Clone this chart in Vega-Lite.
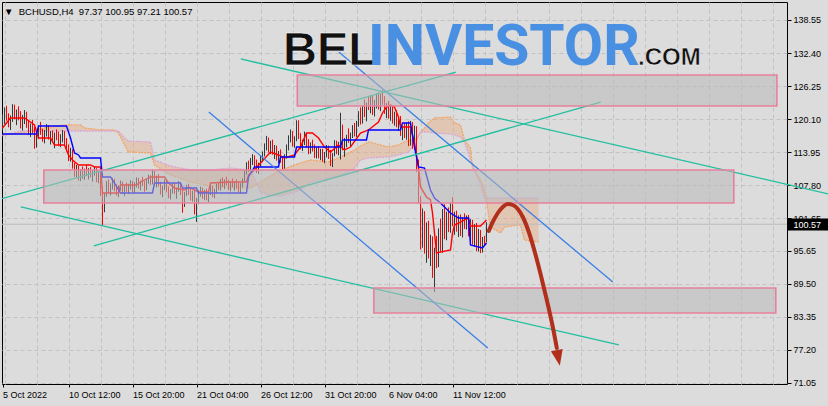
{
"$schema":"https://vega.github.io/schema/vega-lite/v6.json",
"width":785,"height":382,
"autosize":{"type":"none"},
"padding":{"left":2,"top":2,"right":41,"bottom":22},
"background":"#dcdcdc",
"config":{"view":{"stroke":"#000000","strokeWidth":1},"font":"Liberation Sans","axis":{"labelFont":"Liberation Sans","labelFontSize":9,"labelColor":"#000000","tickColor":"#000000","domain":false,"title":null,"gridColor":"#c2c2c2","gridDash":[4,3],"gridWidth":1}},
"title":{"text":"\u25bc\u00a0\u00a0BCHUSD,H4\u00a0\u00a097.37 100.95 97.21 100.57","anchor":"start","frame":"group","orient":"top","offset":0,"dx":2,"dy":14,"font":"Liberation Sans","fontSize":9.5,"fontWeight":"normal","color":"#000000"},
"datasets":{
"bars":[
{"i":0,"o":119.5,"h":121,"l":118,"c":120.2},{"i":1,"o":120.2,"h":122.3,"l":119.2,"c":121.5},{"i":2,"o":121.5,"h":122.6,"l":119.8,"c":120.3},{"i":3,"o":120.3,"h":121.2,"l":118.6,"c":119.2},{"i":4,"o":119.2,"h":120.8,"l":118.1,"c":120.4},{"i":5,"o":120.4,"h":122.9,"l":119.6,"c":122},{"i":6,"o":122,"h":122.8,"l":120.1,"c":120.6},{"i":7,"o":120.6,"h":121.9,"l":119,"c":121.3},{"i":8,"o":121.3,"h":122.5,"l":119.9,"c":120},{"i":9,"o":120,"h":121.6,"l":118.4,"c":119.1},
{"i":10,"o":119.1,"h":120.9,"l":118,"c":120.3},{"i":11,"o":120.3,"h":121.8,"l":119.2,"c":121},{"i":12,"o":121,"h":121.5,"l":118.5,"c":118.9},{"i":13,"o":118.9,"h":119.8,"l":117.2,"c":117.6},{"i":14,"o":117.6,"h":119.3,"l":116.8,"c":118.8},{"i":15,"o":118.8,"h":120,"l":117.5,"c":117.9},{"i":16,"o":117.9,"h":118.6,"l":114.6,"c":115.2},{"i":17,"o":115.2,"h":117.4,"l":114.8,"c":117},{"i":18,"o":117,"h":118.9,"l":116.4,"c":118.3},{"i":19,"o":118.3,"h":119.6,"l":117.2,"c":117.6},
{"i":20,"o":117.6,"h":118.3,"l":115.9,"c":116.4},{"i":21,"o":116.4,"h":118.1,"l":115.6,"c":117.6},{"i":22,"o":117.6,"h":119.2,"l":116.9,"c":118.6},{"i":23,"o":118.6,"h":119,"l":116.3,"c":116.8},{"i":24,"o":116.8,"h":117.9,"l":115.4,"c":117.2},{"i":25,"o":117.2,"h":118,"l":115.7,"c":116.1},{"i":26,"o":116.1,"h":117.6,"l":114.7,"c":117},{"i":27,"o":117,"h":118.2,"l":116.2,"c":116.6},{"i":28,"o":116.6,"h":117.8,"l":115.1,"c":115.6},{"i":29,"o":115.6,"h":117.3,"l":114.9,"c":116.9},
{"i":30,"o":116.9,"h":118.1,"l":115.8,"c":117.4},{"i":31,"o":117.4,"h":117.9,"l":115.2,"c":115.6},{"i":32,"o":115.6,"h":116.6,"l":114.1,"c":114.7},{"i":33,"o":114.7,"h":115.4,"l":112.3,"c":113},{"i":34,"o":113,"h":114.8,"l":112.2,"c":114.1},{"i":35,"o":114.1,"h":114.5,"l":110.9,"c":111.3},{"i":36,"o":111.3,"h":112,"l":109.4,"c":109.9},{"i":37,"o":109.9,"h":111.6,"l":109.2,"c":111.1},{"i":38,"o":111.1,"h":111.4,"l":108.7,"c":109.3},{"i":39,"o":109.3,"h":110.8,"l":108.6,"c":110.4},
{"i":40,"o":110.4,"h":111.3,"l":109,"c":109.6},{"i":41,"o":109.6,"h":110.9,"l":108.8,"c":110.5},{"i":42,"o":110.5,"h":111.6,"l":109.5,"c":110},{"i":43,"o":110,"h":111,"l":108.9,"c":110.7},{"i":44,"o":110.7,"h":111.2,"l":109.3,"c":109.5},{"i":45,"o":109.5,"h":110.6,"l":108.5,"c":110.1},{"i":46,"o":110.1,"h":111.4,"l":109.6,"c":110.9},{"i":47,"o":110.9,"h":111,"l":108.4,"c":108.9},{"i":48,"o":108.9,"h":110.4,"l":108.2,"c":109.9},{"i":49,"o":109.9,"h":110.5,"l":105.8,"c":106.5},
{"i":50,"o":107,"h":107.6,"l":100.4,"c":105.9},{"i":51,"o":105.9,"h":106.4,"l":102.8,"c":106.1},{"i":52,"o":106.1,"h":108.6,"l":105.7,"c":108.1},{"i":53,"o":108.1,"h":108.9,"l":106.4,"c":106.9},{"i":54,"o":106.9,"h":108.2,"l":105.9,"c":107.8},{"i":55,"o":107.8,"h":109.2,"l":107,"c":108.6},{"i":56,"o":108.6,"h":109,"l":106.7,"c":107.1},{"i":57,"o":107.1,"h":108,"l":105.9,"c":106.4},{"i":58,"o":106.4,"h":107.8,"l":105.6,"c":107.5},{"i":59,"o":107.5,"h":108.7,"l":106.8,"c":108.2},
{"i":60,"o":108.2,"h":108.5,"l":106.2,"c":106.6},{"i":61,"o":106.6,"h":107.9,"l":105.8,"c":107.4},{"i":62,"o":107.4,"h":108.3,"l":106.6,"c":106.9},{"i":63,"o":106.9,"h":108.1,"l":106.2,"c":107.8},{"i":64,"o":107.8,"h":108.8,"l":107,"c":108.3},{"i":65,"o":108.3,"h":108.6,"l":106.5,"c":106.8},{"i":66,"o":106.8,"h":108.4,"l":106.3,"c":108},{"i":67,"o":108,"h":109.3,"l":107.4,"c":108.9},{"i":68,"o":108.9,"h":109.2,"l":107.2,"c":107.6},{"i":69,"o":107.6,"h":108.7,"l":106.9,"c":108.3},
{"i":70,"o":108.3,"h":109.4,"l":107.7,"c":107.9},{"i":71,"o":107.9,"h":108.6,"l":106.6,"c":107.2},{"i":72,"o":107.2,"h":109,"l":106.9,"c":108.7},{"i":73,"o":108.7,"h":109.8,"l":108.1,"c":109.4},{"i":74,"o":109.4,"h":109.7,"l":107.9,"c":108.3},{"i":75,"o":108.3,"h":110.7,"l":108,"c":110.2},{"i":76,"o":110.2,"h":110.5,"l":107.8,"c":108.1},{"i":77,"o":108.1,"h":109.6,"l":107.4,"c":109.2},{"i":78,"o":109.2,"h":109.9,"l":107.6,"c":107.9},{"i":79,"o":107.9,"h":108.5,"l":106.1,"c":106.6},
{"i":80,"o":106.6,"h":107.7,"l":105.6,"c":107.3},{"i":81,"o":107.3,"h":108.9,"l":106.9,"c":108.4},{"i":82,"o":108.4,"h":108.8,"l":106.5,"c":106.9},{"i":83,"o":106.9,"h":107.6,"l":105.4,"c":105.9},{"i":84,"o":105.9,"h":107.1,"l":105.2,"c":106.8},{"i":85,"o":106.8,"h":108.2,"l":106.3,"c":107.9},{"i":86,"o":107.9,"h":108.3,"l":106.2,"c":106.5},{"i":87,"o":106.5,"h":107.4,"l":105.3,"c":107},{"i":88,"o":107,"h":108.6,"l":106.6,"c":108.1},{"i":89,"o":108.1,"h":108.4,"l":106,"c":106.4},
{"i":90,"o":106.4,"h":106.9,"l":102.7,"c":104.2},{"i":91,"o":104.2,"h":106.6,"l":103.8,"c":106.2},{"i":92,"o":106.2,"h":107.9,"l":105.8,"c":107.5},{"i":93,"o":107.5,"h":108.1,"l":106,"c":106.4},{"i":94,"o":106.4,"h":107.3,"l":105,"c":105.5},{"i":95,"o":105.5,"h":106.8,"l":104.8,"c":106.5},{"i":96,"o":106.5,"h":107,"l":102.4,"c":102.8},{"i":97,"o":102.8,"h":105.5,"l":101,"c":104.9},{"i":98,"o":104.9,"h":106.9,"l":104.3,"c":106.4},{"i":99,"o":106.4,"h":107.6,"l":105.7,"c":107.1},
{"i":100,"o":107.1,"h":107.4,"l":105.3,"c":105.8},{"i":101,"o":105.8,"h":107,"l":105.1,"c":106.6},{"i":102,"o":106.6,"h":107.2,"l":105,"c":105.4},{"i":103,"o":105.4,"h":106.9,"l":104.7,"c":106.5},{"i":104,"o":106.5,"h":107.9,"l":106,"c":107.4},{"i":105,"o":107.4,"h":107.7,"l":105.6,"c":105.9},{"i":106,"o":105.9,"h":107.2,"l":105.4,"c":106.9},{"i":107,"o":106.9,"h":108.1,"l":106.3,"c":107.7},{"i":108,"o":107.7,"h":108.4,"l":106.9,"c":107.2},{"i":109,"o":107.2,"h":109,"l":106.8,"c":108.6},
{"i":110,"o":108.6,"h":109.3,"l":107.5,"c":107.9},{"i":111,"o":107.9,"h":108.9,"l":107.1,"c":108.5},{"i":112,"o":108.5,"h":109.4,"l":107.8,"c":108.1},{"i":113,"o":108.1,"h":108.8,"l":106.9,"c":107.3},{"i":114,"o":107.3,"h":108.5,"l":106.7,"c":108.2},{"i":115,"o":108.2,"h":109.1,"l":107.4,"c":107.6},{"i":116,"o":107.6,"h":108.6,"l":106.8,"c":108.3},{"i":117,"o":108.3,"h":108.9,"l":107.2,"c":107.5},{"i":118,"o":107.5,"h":108.4,"l":106.5,"c":106.9},{"i":119,"o":106.9,"h":108.2,"l":106.3,"c":107.9},
{"i":120,"o":107.9,"h":109.1,"l":107.4,"c":108.8},{"i":121,"o":108.8,"h":110.6,"l":108.5,"c":110.2},{"i":122,"o":110.2,"h":112.1,"l":109.8,"c":111.6},{"i":123,"o":111.6,"h":112.4,"l":110.3,"c":110.8},{"i":124,"o":110.8,"h":112.9,"l":110.4,"c":112.5},{"i":125,"o":112.5,"h":113.6,"l":111.6,"c":113.1},{"i":126,"o":113.1,"h":113.4,"l":110.9,"c":111.5},{"i":127,"o":111.5,"h":112.6,"l":110.1,"c":110.6},{"i":128,"o":110.6,"h":112,"l":109.9,"c":111.7},{"i":129,"o":111.7,"h":113.4,"l":111.3,"c":112.9},
{"i":130,"o":112.9,"h":114.1,"l":112.1,"c":113.7},{"i":131,"o":113.7,"h":115.6,"l":113.2,"c":115.1},{"i":132,"o":115.1,"h":117,"l":114.3,"c":116.2},{"i":133,"o":116.2,"h":116.7,"l":113.9,"c":114.4},{"i":134,"o":114.4,"h":116.1,"l":113.6,"c":115.7},{"i":135,"o":115.7,"h":116.3,"l":113.5,"c":113.9},{"i":136,"o":113.9,"h":115.3,"l":112.7,"c":114.8},{"i":137,"o":114.8,"h":115.2,"l":112.4,"c":112.8},{"i":138,"o":112.8,"h":114.2,"l":111.9,"c":113.8},{"i":139,"o":113.8,"h":114.5,"l":112,"c":112.4},
{"i":140,"o":112.4,"h":113.2,"l":110.8,"c":111.2},{"i":141,"o":111.2,"h":113.6,"l":110.9,"c":113.1},{"i":142,"o":113.1,"h":115.4,"l":112.8,"c":114.9},{"i":143,"o":114.9,"h":117.1,"l":114.3,"c":116.6},{"i":144,"o":116.6,"h":118.2,"l":115.8,"c":117.6},{"i":145,"o":117.6,"h":117.9,"l":115,"c":115.4},{"i":146,"o":115.4,"h":116.9,"l":114.8,"c":116.5},{"i":147,"o":116.5,"h":119.9,"l":116,"c":118.9},{"i":148,"o":118.9,"h":119.9,"l":116.4,"c":116.9},{"i":149,"o":116.9,"h":117.5,"l":114.5,"c":114.9},
{"i":150,"o":114.9,"h":116.3,"l":114.2,"c":115.9},{"i":151,"o":115.9,"h":117.8,"l":115.3,"c":117.2},{"i":152,"o":117.2,"h":117.6,"l":114.8,"c":115.2},{"i":153,"o":115.2,"h":116.4,"l":113.6,"c":114},{"i":154,"o":114,"h":115.8,"l":113.7,"c":115.4},{"i":155,"o":115.4,"h":116.3,"l":114.1,"c":114.5},{"i":156,"o":114.5,"h":115.4,"l":112.9,"c":113.3},{"i":157,"o":113.3,"h":114.9,"l":112.8,"c":114.5},{"i":158,"o":114.5,"h":115.1,"l":112.8,"c":113.2},{"i":159,"o":113.2,"h":114.6,"l":112.5,"c":114.1},
{"i":160,"o":114.1,"h":114.6,"l":112.2,"c":112.6},{"i":161,"o":112.6,"h":114,"l":111.9,"c":113.6},{"i":162,"o":113.6,"h":115.3,"l":113,"c":114.8},{"i":163,"o":114.8,"h":115.2,"l":112.7,"c":113.1},{"i":164,"o":113.1,"h":114.4,"l":111.4,"c":111.9},{"i":165,"o":111.9,"h":113.8,"l":111.2,"c":113.5},{"i":166,"o":113.5,"h":116.2,"l":113.2,"c":115.8},{"i":167,"o":115.8,"h":116.1,"l":113.6,"c":114},{"i":168,"o":114,"h":115.9,"l":113.4,"c":114.2},{"i":169,"o":114.2,"h":121.3,"l":112.6,"c":118.6},
{"i":170,"o":118.6,"h":119.1,"l":114.3,"c":114.8},{"i":171,"o":114.8,"h":116.6,"l":113.1,"c":115.9},{"i":172,"o":115.9,"h":117.2,"l":114.9,"c":116.8},{"i":173,"o":116.8,"h":118.4,"l":115.7,"c":115.9},{"i":174,"o":115.9,"h":117.6,"l":115,"c":117.3},{"i":175,"o":117.3,"h":119,"l":116.6,"c":118.6},{"i":176,"o":118.6,"h":119.4,"l":116.9,"c":117.4},{"i":177,"o":117.4,"h":119.8,"l":116.8,"c":119.4},{"i":178,"o":119.4,"h":121.6,"l":118.7,"c":121},{"i":179,"o":121,"h":122.3,"l":119.1,"c":119.8},
{"i":180,"o":119.8,"h":122.7,"l":119.3,"c":122.1},{"i":181,"o":122.1,"h":123.8,"l":120.5,"c":121},{"i":182,"o":121,"h":123.2,"l":119.7,"c":122.9},{"i":183,"o":122.9,"h":124.4,"l":121.8,"c":122.3},{"i":184,"o":122.3,"h":124.6,"l":121.2,"c":123.9},{"i":185,"o":123.9,"h":124.5,"l":120.9,"c":121.4},{"i":186,"o":121.4,"h":123.7,"l":120.6,"c":123.2},{"i":187,"o":123.2,"h":124.9,"l":122.1,"c":124.3},{"i":188,"o":124.3,"h":125.1,"l":121.9,"c":122.4},{"i":189,"o":122.4,"h":124.8,"l":121.6,"c":124.5},
{"i":190,"o":124.5,"h":125.5,"l":122.8,"c":123.2},{"i":191,"o":123.2,"h":124.4,"l":121.1,"c":121.6},{"i":192,"o":121.6,"h":123.1,"l":120.3,"c":122.7},{"i":193,"o":122.7,"h":123.5,"l":120.2,"c":120.6},{"i":194,"o":120.6,"h":122.6,"l":119.8,"c":122.1},{"i":195,"o":122.1,"h":122.4,"l":119.3,"c":119.6},{"i":196,"o":119.6,"h":121.5,"l":118.9,"c":121.1},{"i":197,"o":121.1,"h":121.8,"l":118.6,"c":118.9},{"i":198,"o":118.9,"h":120.5,"l":117.9,"c":120.1},{"i":199,"o":120.1,"h":120.7,"l":117,"c":117.4},
{"i":200,"o":117.4,"h":118.9,"l":116.2,"c":118.5},{"i":201,"o":118.5,"h":119.4,"l":116.6,"c":117},{"i":202,"o":117,"h":119.5,"l":116.3,"c":119.1},{"i":203,"o":119.1,"h":119.7,"l":115.1,"c":115.6},{"i":204,"o":115.6,"h":119.8,"l":115.2,"c":119.2},{"i":205,"o":119.2,"h":119.6,"l":114.6,"c":115},{"i":206,"o":115,"h":118.9,"l":114.4,"c":118.3},{"i":207,"o":118.3,"h":118.8,"l":110.3,"c":111},{"i":208,"o":111,"h":112.6,"l":104.4,"c":105.1},{"i":209,"o":105.1,"h":105.8,"l":95.9,"c":97.6},
{"i":210,"o":97.6,"h":103.5,"l":96.2,"c":102.6},{"i":211,"o":102.6,"h":103,"l":95.1,"c":95.8},{"i":212,"o":95.8,"h":100.9,"l":93.4,"c":100.1},{"i":213,"o":100.1,"h":101.2,"l":94.2,"c":94.8},{"i":214,"o":94.8,"h":98.6,"l":92.8,"c":97.9},{"i":215,"o":97.9,"h":98.3,"l":90.6,"c":91.5},{"i":216,"o":91.5,"h":96.2,"l":88,"c":95.6},{"i":217,"o":95.6,"h":98.4,"l":92.4,"c":93.1},{"i":218,"o":93.1,"h":99.8,"l":92.6,"c":99.2},{"i":219,"o":99.2,"h":101.6,"l":95.4,"c":96},
{"i":220,"o":96,"h":103.4,"l":95.3,"c":102.8},{"i":221,"o":102.8,"h":104.3,"l":97.8,"c":98.5},{"i":222,"o":98.5,"h":102.9,"l":97.6,"c":102.4},{"i":223,"o":102.4,"h":103.7,"l":99.1,"c":99.6},{"i":224,"o":99.6,"h":104.6,"l":99,"c":104.1},{"i":225,"o":104.1,"h":105.6,"l":100.2,"c":100.7},{"i":226,"o":100.7,"h":102.9,"l":98.6,"c":102.3},{"i":227,"o":102.3,"h":103.1,"l":99.2,"c":99.7},{"i":228,"o":99.7,"h":102.2,"l":98.2,"c":101.6},{"i":229,"o":101.6,"h":102.4,"l":98.4,"c":98.8},
{"i":230,"o":98.8,"h":101.8,"l":98.1,"c":101.2},{"i":231,"o":101.2,"h":102.6,"l":99.7,"c":100.3},{"i":232,"o":100.3,"h":102.2,"l":99.6,"c":101.9},{"i":233,"o":101.9,"h":102.3,"l":98.3,"c":98.7},{"i":234,"o":98.7,"h":101.5,"l":97,"c":100.9},{"i":235,"o":100.9,"h":101.4,"l":96.8,"c":97.3},{"i":236,"o":97.3,"h":100.6,"l":96.4,"c":100},{"i":237,"o":100,"h":100.8,"l":95.6,"c":96.1},{"i":238,"o":96.1,"h":99.7,"l":95.5,"c":99.1},{"i":239,"o":99.1,"h":99.5,"l":95.2,"c":95.9},
{"i":240,"o":95.9,"h":98.2,"l":95.3,"c":97.8},{"i":241,"o":97.8,"h":98.4,"l":96.6,"c":97.37},{"i":242,"o":97.37,"h":100.95,"l":97.21,"c":100.57}
],
"tenkan":[
{"i":0,"p":118.47},{"i":4,"p":120.33},{"i":11,"p":120.33},{"i":14,"p":119.58},{"i":16,"p":119.03},{"i":18,"p":116.61},{"i":24,"p":116.61},{"i":26,"p":115.31},{"i":31,"p":115.31},{"i":33,"p":113.45},{"i":35,"p":112.52},{"i":38,"p":111.59},{"i":44,"p":111.59},{"i":46,"p":111.22},{"i":49,"p":111.22},{"i":50,"p":106.38},{"i":58,"p":106.38},{"i":59,"p":107.87},{"i":67,"p":107.87},{"i":69,"p":108.43},{"i":74,"p":109.36},{"i":81,"p":109.36},{"i":83,"p":108.24},{"i":86,"p":107.31},{"i":91,"p":106.94},{"i":93,"p":107.5},{"i":98,"p":106.57},{"i":103,"p":106.57},{"i":104,"p":108.24},{"i":114,"p":108.43},{"i":122,"p":108.43},{"i":123,"p":109.73},{"i":126,"p":110.66},{"i":129,"p":111.96},{"i":134,"p":114.01},{"i":138,"p":113.45},{"i":141,"p":112.89},{"i":146,"p":113.45},{"i":149,"p":114.93},{"i":152,"p":117.54},{"i":155,"p":117.54},{"i":158,"p":116.61},{"i":161,"p":114.93},{"i":164,"p":114.01},{"i":168,"p":115.31},{"i":171,"p":114.38},{"i":174,"p":114.93},{"i":179,"p":117.54},{"i":183,"p":118.1},{"i":188,"p":119.58},{"i":190,"p":121.26},{"i":192,"p":122.37},{"i":194,"p":122.74},{"i":196,"p":122.37},{"i":198,"p":120.51},{"i":199,"p":118.65},{"i":204,"p":118.65},{"i":206,"p":115.68},{"i":208,"p":111.22},{"i":209,"p":107.5},{"i":212,"p":105.64},{"i":214,"p":105.08},{"i":215,"p":102.66},{"i":217,"p":95.22},{"i":224,"p":95.78},{"i":225,"p":98.94},{"i":226,"p":100.43},{"i":228,"p":100.8},{"i":231,"p":101.36},{"i":233,"p":101.73},{"i":234,"p":100.24},{"i":239,"p":100.24},{"i":242,"p":101.36}
],
"kijun":[
{"i":0,"p":117.35},{"i":17,"p":117.35},{"i":18,"p":118.84},{"i":32,"p":118.84},{"i":34,"p":116.61},{"i":36,"p":113.82},{"i":38,"p":113.45},{"i":39,"p":112.89},{"i":49,"p":112.89},{"i":50,"p":109.36},{"i":54,"p":109.36},{"i":56,"p":108.24},{"i":59,"p":106.38},{"i":75,"p":106.38},{"i":76,"p":108.24},{"i":89,"p":108.24},{"i":90,"p":107.31},{"i":97,"p":107.31},{"i":98,"p":106.38},{"i":122,"p":106.38},{"i":123,"p":109.36},{"i":126,"p":111.22},{"i":138,"p":111.22},{"i":139,"p":113.08},{"i":146,"p":113.08},{"i":147,"p":114.93},{"i":169,"p":114.93},{"i":170,"p":116.24},{"i":182,"p":116.24},{"i":183,"p":118.1},{"i":199,"p":118.1},{"i":200,"p":119.4},{"i":204,"p":119.4},{"i":206,"p":114.93},{"i":208,"p":111.22},{"i":211,"p":111.03},{"i":214,"p":106.94},{"i":216,"p":105.45},{"i":219,"p":104.52},{"i":224,"p":102.66},{"i":228,"p":101.73},{"i":233,"p":101.73},{"i":234,"p":96.71},{"i":240,"p":96.15},{"i":242,"p":97.08}
],
"cloud":[
{"i":0,"a":117.17,"b":116.98},{"i":9,"a":117.54,"b":117.91},{"i":21,"a":118.47,"b":117.91},{"i":31,"a":119.03,"b":117.91},{"i":39,"a":119.03,"b":117.91},{"i":41,"a":118.47,"b":117.91},{"i":49,"a":118.1,"b":117.91},{"i":56,"a":118.1,"b":117.91},{"i":58,"a":117.54,"b":117.91},{"i":61,"a":115.31,"b":116.61},{"i":63,"a":114.01,"b":116.05},{"i":74,"a":113.82,"b":115.86},{"i":76,"a":111.59,"b":112.52},{"i":84,"a":109.73,"b":111.4},{"i":94,"a":108.43,"b":110.66},{"i":104,"a":107.68,"b":110.66},{"i":114,"a":107.31,"b":111.03},{"i":124,"a":107.31,"b":110.66},{"i":129,"a":108.43,"b":106.57},{"i":133,"a":109.36,"b":106.01},{"i":139,"a":110.66,"b":105.82},{"i":149,"a":111.96,"b":106.94},{"i":154,"a":112.52,"b":108.43},{"i":163,"a":112.15,"b":109.17},{"i":169,"a":113.08,"b":109.54},{"i":176,"a":114.38,"b":111.03},{"i":179,"a":115.12,"b":112.52},{"i":183,"a":115.86,"b":112.89},{"i":193,"a":114.93,"b":113.08},{"i":198,"a":115.31,"b":113.45},{"i":203,"a":116.24,"b":114.01},{"i":206,"a":116.24,"b":115.31},{"i":209,"a":117.54,"b":117.72},{"i":213,"a":119.4,"b":117.72},{"i":216,"a":120.33,"b":117.54},{"i":224,"a":120.51,"b":117.35},{"i":226,"a":119.4,"b":117.17},{"i":229,"a":119.03,"b":116.79},{"i":231,"a":116.24,"b":115.86},{"i":234,"a":114.75,"b":112.52},{"i":235,"a":111.22,"b":111.59},{"i":239,"a":108.8,"b":107.87},{"i":241,"a":106.94,"b":105.45},{"i":242,"a":105.08,"b":105.45},{"i":243,"a":102.29,"b":105.45},{"i":244,"a":100.06,"b":105.45},{"i":249,"a":98.94,"b":105.45},{"i":251,"a":100.06,"b":105.45},{"i":259,"a":100.43,"b":105.45},{"i":261,"a":97.64,"b":105.45},{"i":268,"a":97.27,"b":105.45}
],
"trend":[
{"id":"A","i":-0.85,"p":105.27},{"id":"A","i":226.65,"p":128.88},
{"id":"B","i":45.65,"p":96.53},{"id":"B","i":299.15,"p":123.3},
{"id":"C","i":9.15,"p":103.78},{"id":"C","i":308.15,"p":78.12},
{"id":"E","i":103.15,"p":121.44},{"id":"E","i":242.65,"p":77.56},
{"id":"F","i":168.15,"p":132.6},{"id":"F","i":305.15,"p":89.83}
],
"trendD":[{"i":119.15,"p":131.3},{"i":413.15,"p":106.19}],
"zones":[
{"i":147.4,"i2":387.2,"p":128.32,"p2":122.56},
{"i":20.65,"i2":365.65,"p":110.66,"p2":104.52},
{"i":185.65,"i2":386.65,"p":88.72,"p2":84.07}
],
"arrow":[
{"i":243.15,"p":99.31},{"i":245.15,"p":100.99},{"i":247.65,"p":102.66},{"i":250.15,"p":103.78},{"i":252.65,"p":104.34},{"i":255.15,"p":104.15},{"i":257.65,"p":103.41},{"i":260.15,"p":101.92},{"i":263.15,"p":99.13},{"i":266.15,"p":95.41},{"i":269.15,"p":91.13},{"i":272.15,"p":86.48},{"i":275.15,"p":81.46},{"i":277.15,"p":77.56}
],
"arrowhead":[{"i":277.9,"p":75.7}],
"logo":[{"t":"BEL","i":140.25,"p":130.18},{"t":"INVESTOR","i":182.75,"p":130.18},{"t":".COM","i":317.75,"p":130.18}],
"last":[{"p":100.57}]
},
"resolve":{"axis":{"x":"independent","y":"independent"}},
"encoding":{"x":{"field":"i","type":"quantitative","scale":{"domain":[-0.25,392.25],"nice":false,"zero":false},"axis":null}},
"layer":[
{"data":{"name":"cloud"},"mark":{"type":"area","color":"#eaa77c","opacity":0.42},
 "encoding":{
  "x":{"field":"i","type":"quantitative","scale":{"domain":[-0.25,392.25],"nice":false,"zero":false},
   "axis":{"orient":"bottom","values":[0,33,65,97,129,161,193,225],"labelExpr":"datum.value==0?'5 Oct 2022':datum.value==33?'10 Oct 12:00':datum.value==65?'15 Oct 20:00':datum.value==97?'21 Oct 04:00':datum.value==129?'26 Oct 12:00':datum.value==161?'31 Oct 20:00':datum.value==193?'6 Nov 04:00':datum.value==225?'11 Nov 12:00':''","grid":false,"ticks":true,"tickSize":3,"labelAlign":"left","labelBaseline":"top","labelPadding":3,"labelFlush":false,"labelOverlap":false}},
  "y":{"field":"a","type":"quantitative","scale":{"domain":[70.864,141.897],"nice":false,"zero":false},
   "axis":{"orient":"right","values":[138.55,132.4,126.25,120.1,113.95,107.8,101.65,95.65,89.5,83.35,77.2,71.05],"format":".2f","grid":true,"ticks":true,"tickSize":4,"labelPadding":2,"labelFlush":false,"labelOverlap":false,"zindex":0}},
  "y2":{"field":"b"}}},
{"data":{"name":"cloud"},"mark":{"type":"line","color":"#f4a460","strokeWidth":1.3,"strokeDash":[2,1]},
 "encoding":{
  "x":{"field":"i","type":"quantitative","scale":{"domain":[-0.25,392.25],"nice":false,"zero":false},
   "axis":{"orient":"top","values":[1,17,33,49,65,81,97,113,129,145,161,177,193,209,225,241,257,273,289,305,321,337,353,369,385],"grid":true,"labels":false,"ticks":false}},
  "y":{"field":"a","type":"quantitative","scale":{"domain":[70.864,141.897],"nice":false,"zero":false},"axis":null}}},
{"data":{"name":"cloud"},"mark":{"type":"line","color":"#d9a6d9","strokeWidth":1.3,"strokeDash":[2,1]},
 "encoding":{"y":{"field":"b","type":"quantitative","scale":{"domain":[70.864,141.897],"nice":false,"zero":false},"axis":null}}},
{"data":{"name":"last"},"mark":{"type":"rule","color":"#bcbcbc","strokeWidth":1},
 "encoding":{"x":null,"y":{"field":"p","type":"quantitative","scale":{"domain":[70.864,141.897],"nice":false,"zero":false},
   "axis":{"orient":"right","values":[100.57],"format":".2f","grid":false,"ticks":true,"tickSize":41,"tickWidth":12,"tickColor":"#000000","tickCap":"butt","labelColor":"#ffffff","labelPadding":-35,"labelAlign":"left","labelFlush":false,"labelOverlap":false,"zindex":2}}}},
{"data":{"name":"bars"},"mark":{"type":"rule","strokeWidth":1},
 "encoding":{"y":{"field":"l","type":"quantitative","scale":{"domain":[70.864,141.897],"nice":false,"zero":false},"axis":null},"y2":{"field":"h"},
  "color":{"condition":{"test":"datum.c >= datum.o","value":"#2f3b3b"},"value":"#ff0000"}}},
{"data":{"name":"tenkan"},"mark":{"type":"line","color":"#ff0000","strokeWidth":1.4},
 "encoding":{"y":{"field":"p","type":"quantitative","scale":{"domain":[70.864,141.897],"nice":false,"zero":false},"axis":null}}},
{"data":{"name":"kijun"},"mark":{"type":"line","color":"#0000ff","strokeWidth":1.4},
 "encoding":{"y":{"field":"p","type":"quantitative","scale":{"domain":[70.864,141.897],"nice":false,"zero":false},"axis":null}}},
{"data":{"name":"trend"},"mark":{"type":"line","strokeWidth":1.3,"clip":true},
 "encoding":{"y":{"field":"p","type":"quantitative","scale":{"domain":[70.864,141.897],"nice":false,"zero":false},"axis":null},
  "detail":{"field":"id"},
  "color":{"field":"id","type":"nominal","scale":{"domain":["A","B","C","E","F"],"range":["#1fbf9f","#1fbf9f","#1fbf9f","#3b7fe6","#3b7fe6"]},"legend":null}}},
{"data":{"name":"trendD"},"mark":{"type":"line","strokeWidth":1.3,"color":"#1fbf9f","clip":false},
 "encoding":{"y":{"field":"p","type":"quantitative","scale":{"domain":[70.864,141.897],"nice":false,"zero":false},"axis":null}}},
{"data":{"name":"zones"},"mark":{"type":"rect","fill":"#bababa","fillOpacity":0.55,"stroke":"#e8809c","strokeWidth":1.6},
 "encoding":{"x2":{"field":"i2"},"y":{"field":"p","type":"quantitative","scale":{"domain":[70.864,141.897],"nice":false,"zero":false},"axis":null},"y2":{"field":"p2"}}},
{"data":{"name":"arrow"},"mark":{"type":"line","color":"#b0301c","strokeWidth":4,"strokeCap":"round","interpolate":"monotone"},
 "encoding":{"y":{"field":"p","type":"quantitative","scale":{"domain":[70.864,141.897],"nice":false,"zero":false},"axis":null}}},
{"data":{"name":"arrowhead"},"mark":{"type":"point","shape":"M-0.75,-1L0.75,-1L0,1Z","size":256,"filled":true,"color":"#b0301c","opacity":1,"angle":349},
 "encoding":{"y":{"field":"p","type":"quantitative","scale":{"domain":[70.864,141.897],"nice":false,"zero":false},"axis":null}}},
{"data":{"name":"logo"},"transform":[{"filter":"datum.t=='BEL'"}],"mark":{"type":"text","font":"Liberation Sans","fontWeight":"bold","fontSize":47,"align":"left","baseline":"alphabetic","fill":"#111111","stroke":"#ffffff","strokeWidth":0.6},
 "encoding":{"y":{"field":"p","type":"quantitative","scale":{"domain":[70.864,141.897],"nice":false,"zero":false},"axis":null},"text":{"field":"t"}}},
{"data":{"name":"logo"},"transform":[{"filter":"datum.t=='INVESTOR'"}],"mark":{"type":"text","font":"Roboto","fontWeight":"bold","fontSize":57,"align":"left","baseline":"alphabetic","fill":"#4a90e2"},
 "encoding":{"y":{"field":"p","type":"quantitative","scale":{"domain":[70.864,141.897],"nice":false,"zero":false},"axis":null},"text":{"field":"t"}}},
{"data":{"name":"logo"},"transform":[{"filter":"datum.t=='.COM'"}],"mark":{"type":"text","font":"Liberation Sans","fontWeight":"bold","fontSize":24,"align":"left","baseline":"alphabetic","fill":"#111111","stroke":"#ffffff","strokeWidth":0.4},
 "encoding":{"y":{"field":"p","type":"quantitative","scale":{"domain":[70.864,141.897],"nice":false,"zero":false},"axis":null},"text":{"field":"t"}}}
]
}
